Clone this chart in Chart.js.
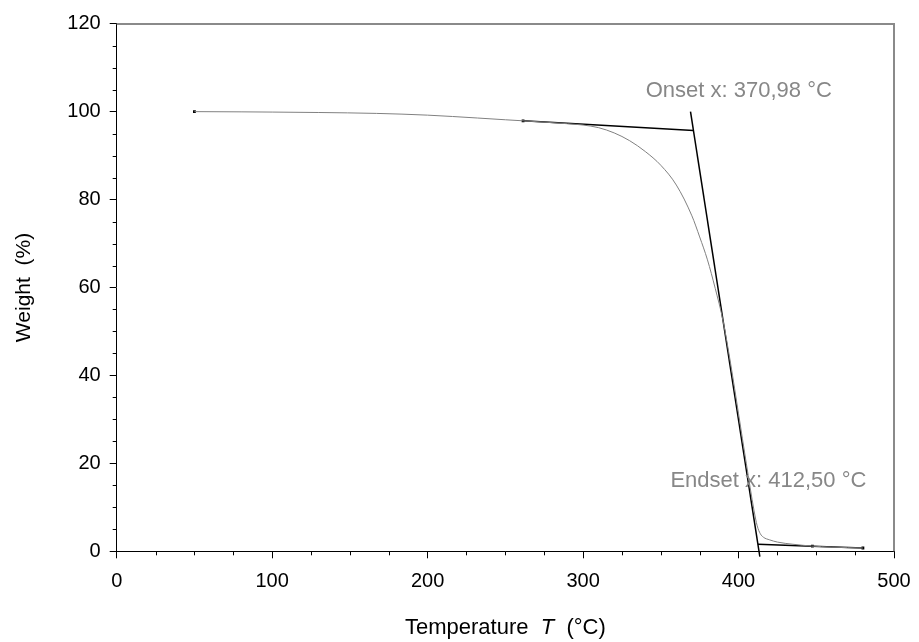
<!DOCTYPE html>
<html><head><meta charset="utf-8">
<script src="https://cdn.jsdelivr.net/npm/chart.js@4.4.1/dist/chart.umd.min.js"></script>
<style>html,body{margin:0;padding:0;background:#fff;}#wrap{width:919px;height:642px;position:relative;}</style>
</head><body><div id="wrap"><canvas id="c" width="919" height="642"></canvas></div>
<script>
// ---- data ----
const tempC = [50, 80, 100, 130, 167, 200, 232, 250, 262, 280, 290, 300, 310, 320, 330, 340, 350, 360, 370, 375, 380, 385, 390, 395, 400, 405, 410, 412, 414, 416, 420, 425, 435, 447, 460, 480];
const weightPct = [100.0, 99.95, 99.9, 99.8, 99.6, 99.2, 98.55, 98.15, 97.9, 97.5, 97.25, 96.95, 96.35, 95.16, 93.38, 90.93, 87.8, 83.3, 76.3, 71.5, 66.3, 59.8, 52.5, 42.5, 31.3, 20.0, 9.2, 5.8, 4.0, 3.2, 2.6, 2.1, 1.6, 1.2, 0.95, 0.75];
const onsetTangentT = [261.4, 370.98];
const onsetTangentW = [97.9, 95.7];
const steepTangentT = [369.1, 413.7];
const steepTangentW = [100.0, -1.2];
const endsetTangentT = [412.5, 447.5, 480];
const endsetTangentW = [1.6, 1.17, 0.75];
const markerT = [50, 261.4, 447.5, 480];
const markerW = [100.0, 97.9, 1.17, 0.75];
const xTicks = [0, 100, 200, 300, 400, 500];
const yTicks = [0, 20, 40, 60, 80, 100, 120];
const xMinorStep = 25;
const yMinorStep = 5;
const onsetLabel = "Onset x: 370,98 °C";
const onsetLabelPos = [340.3, 103.3];
const endsetLabel = "Endset x: 412,50 °C";
const endsetLabelPos = [356.2, 14.6];
const xTitleParts = ["Temperature  ", "T", "  (°C)"];
const yTitle = "Weight  (%)";

const FONT = "'Liberation Sans', Arial, sans-serif";
const pts = (xs, ys) => xs.map((x, i) => ({x: x, y: ys[i]}));

const decor = {
  id: 'decor',
  afterDatasetsDraw(chart) {
    const {ctx, chartArea: a, scales: {x, y}} = chart;
    ctx.save();
    // grey top / right frame
    ctx.strokeStyle = '#8a8a8a';
    ctx.lineWidth = 2;
    ctx.beginPath();
    ctx.moveTo(a.left, 24); ctx.lineTo(a.right + 1, 24);
    ctx.moveTo(a.right, 24); ctx.lineTo(a.right, a.bottom);
    ctx.stroke();
    // minor ticks
    ctx.strokeStyle = '#000';
    ctx.lineWidth = 1;
    ctx.beginPath();
    for (let v = x.min; v <= x.max; v += xMinorStep) {
      if (xTicks.includes(v)) continue;
      const px = Math.round(x.getPixelForValue(v)) + 0.5;
      ctx.moveTo(px, y.bottom); ctx.lineTo(px, y.bottom + 4);
    }
    for (let v = y.min; v <= y.max; v += yMinorStep) {
      if (yTicks.includes(v)) continue;
      const py = Math.round(y.getPixelForValue(v)) + 0.5;
      ctx.moveTo(x.left, py); ctx.lineTo(x.left - 4, py);
    }
    ctx.stroke();
    // annotations
    ctx.fillStyle = '#878787';
    ctx.font = '22px ' + FONT;
    ctx.textAlign = 'left';
    ctx.textBaseline = 'alphabetic';
    ctx.fillText(onsetLabel, x.getPixelForValue(onsetLabelPos[0]), y.getPixelForValue(onsetLabelPos[1]));
    ctx.fillText(endsetLabel, x.getPixelForValue(endsetLabelPos[0]), y.getPixelForValue(endsetLabelPos[1]));
    // x title with italic T
    ctx.fillStyle = '#000';
    const fN = '22px ' + FONT, fI = 'italic 22px ' + FONT;
    ctx.font = fN; const w0 = ctx.measureText(xTitleParts[0]).width;
    ctx.font = fI; const w1 = ctx.measureText(xTitleParts[1]).width;
    ctx.font = fN; const w2 = ctx.measureText(xTitleParts[2]).width;
    let sx = (a.left + a.right) / 2 - (w0 + w1 + w2) / 2;
    const by = chart.height - 8;
    ctx.font = fN; ctx.fillText(xTitleParts[0], sx, by); sx += w0;
    ctx.font = fI; ctx.fillText(xTitleParts[1], sx, by); sx += w1;
    ctx.font = fN; ctx.fillText(xTitleParts[2], sx, by);
    ctx.restore();
  }
};

new Chart(document.getElementById('c'), {
  type: 'scatter',
  data: {
    datasets: [
      {label: 'TGA', data: pts(tempC, weightPct), showLine: true, borderColor: '#808080', borderWidth: 1, pointRadius: 0, cubicInterpolationMode: 'monotone'},
      {label: 'onset tangent', data: pts(onsetTangentT, onsetTangentW), showLine: true, borderColor: '#000', borderWidth: 1.5, pointRadius: 0},
      {label: 'steep tangent', data: pts(steepTangentT, steepTangentW), showLine: true, borderColor: '#000', borderWidth: 1.5, pointRadius: 0, clip: false},
      {label: 'endset tangent', data: pts(endsetTangentT, endsetTangentW), showLine: true, borderColor: '#000', borderWidth: 1.5, pointRadius: 0},
      {label: 'markers', data: pts(markerT, markerW), showLine: false, pointStyle: 'rect', pointRadius: 2, backgroundColor: '#000', borderColor: '#000', borderWidth: 0}
    ]
  },
  options: {
    responsive: false,
    animation: false,
    layout: {autoPadding: false, padding: {top: 23.7, right: 25, left: 0, bottom: 0}},
    plugins: {legend: {display: false}, tooltip: {enabled: false}},
    scales: {
      x: {
        type: 'linear', min: 0, max: 500,
        afterBuildTicks: s => { s.ticks = xTicks.map(v => ({value: v})); },
        afterFit: s => { s.height = 642 - 551.3; },
        ticks: {font: {size: 20, family: FONT, lineHeight: 1.5}, color: '#000', padding: 8, maxRotation: 0},
        grid: {drawOnChartArea: false, drawTicks: true, tickLength: 7, color: '#000'},
        border: {color: '#000', width: 1}
      },
      y: {
        type: 'linear', min: 0, max: 120,
        afterBuildTicks: s => { s.ticks = yTicks.map(v => ({value: v})); },
        afterFit: s => { s.width = 116.7; },
        ticks: {font: {size: 20, family: FONT}, color: '#000', padding: 9},
        grid: {drawOnChartArea: false, drawTicks: true, tickLength: 7, color: '#000'},
        border: {color: '#000', width: 1},
        title: {display: true, text: yTitle, font: {size: 21, family: FONT}, color: '#000', padding: {top: 12, bottom: 0}}
      }
    }
  },
  plugins: [decor]
});
</script></body></html>
